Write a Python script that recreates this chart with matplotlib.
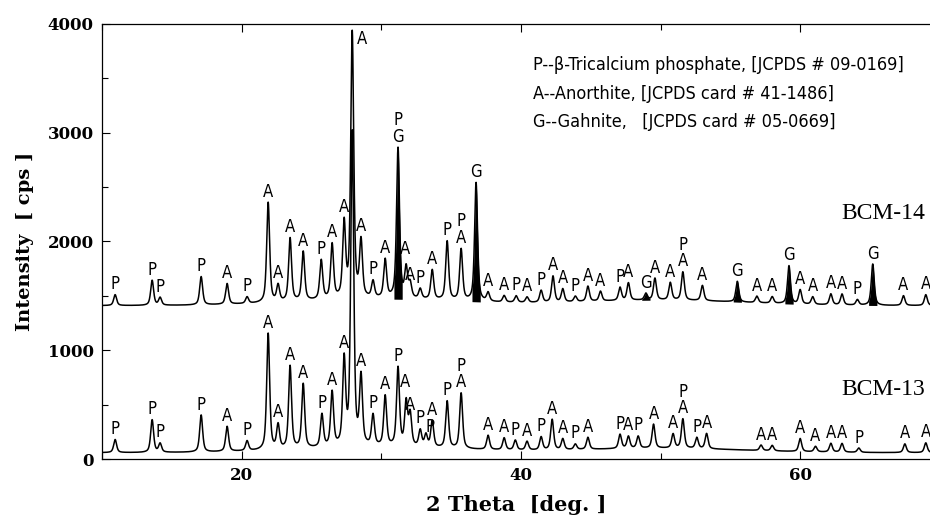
import numpy as np
import matplotlib
matplotlib.use("Agg")
import matplotlib.pyplot as plt
from matplotlib import font_manager
from matplotlib.ticker import MultipleLocator

# ---- peaks: 2theta [deg], height above baseline [cps], phase label
pos14 = [10.94, 13.59, 14.16, 17.10, 18.96, 20.39, 21.90, 22.61, 23.47, 24.41,
         25.70, 26.48, 27.34, 27.92, 28.55, 29.41, 30.28, 31.20, 31.78, 32.07,
         32.79, 33.65, 34.72, 35.72, 36.79, 37.65, 38.80, 39.66, 40.44, 41.45,
         42.30, 43.00, 43.90, 44.80, 45.70, 47.10, 47.70, 48.95, 49.60, 50.70,
         51.60, 53.00, 55.50, 56.90, 58.00, 59.20, 60.00, 60.90, 62.20, 63.00,
         64.10, 65.20, 67.40, 69.00]
amp14 = [100, 230, 70, 260, 190, 60, 920, 150, 580, 450,
         360, 500, 680, 2440, 510, 150, 350, 1380, 270, 130,
         90, 270, 540, 470, 1090, 80, 60, 60, 50, 110,
         240, 120, 50, 140, 90, 120, 160, 60, 200, 160,
         260, 140, 190, 60, 60, 350, 130, 70, 100, 100,
         50, 380, 90, 100]
lab14 = ["P", "P", "P", "P", "A", "P", "A", "A", "A", "A",
         "P", "A", "A", "A", "A", "P", "A", "P\nG", "A", "A",
         "P", "A", "P", "P\nA", "G", "A", "A", "P", "A", "P",
         "A", "A", "P", "A", "A", "P", "A", "G", "A", "A",
         "P\nA", "A", "G", "A", "A", "G", "A", "A", "A", "A",
         "P", "G", "A", "A"]
gahnite14 = [31.20, 36.79, 48.95, 55.50, 59.20, 65.20]

pos13 = [10.94, 13.59, 14.16, 17.10, 18.96, 20.39, 21.90, 22.61, 23.47, 24.41,
         25.75, 26.48, 27.34, 27.92, 28.55, 29.41, 30.28, 31.20, 31.78, 32.07,
         32.79, 33.20, 33.65, 34.72, 35.72, 37.65, 38.80, 39.60, 40.44, 41.45,
         42.24, 43.00, 43.90, 44.80, 47.10, 47.70, 48.40, 49.50, 50.90, 51.60,
         52.60, 53.30, 57.20, 58.00, 60.00, 61.10, 62.20, 63.00, 64.20, 67.50,
         69.00]
amp13 = [120, 300, 80, 340, 230, 90, 1070, 220, 760, 590,
         300, 500, 780, 2880, 620, 280, 460, 720, 400, 290,
         150, 110, 240, 430, 510, 130, 110, 90, 80, 120,
         280, 100, 50, 110, 130, 110, 110, 220, 130, 270,
         100, 140, 50, 50, 120, 50, 80, 80, 40, 80,
         90]
lab13 = ["P", "P", "P", "P", "A", "P", "A", "A", "A", "A",
         "P", "A", "A", "", "A", "P", "A", "P", "A", "A",
         "P", "P", "A", "P", "P\nA", "A", "A", "P", "A", "P",
         "A", "A", "P", "A", "P", "A", "P", "A", "A", "P\nA",
         "P", "A", "A", "A", "A", "A", "A", "A", "P", "A",
         "A"]

base14 = 1410
base13 = 58
hump_pos = [30.0, 50.0]
hump14 = [60, 50]
hump13 = [50, 40]

legend_lines = ["P--\u03b2-Tricalcium phosphate, [JCPDS # 09-0169]",
                "A--Anorthite, [JCPDS card # 41-1486]",
                "G--Gahnite,   [JCPDS card # 05-0669]"]

assert len(pos14) == len(amp14) == len(lab14)
assert len(pos13) == len(amp13) == len(lab13)

FWHM = 0.25
HUMP_FWHM = 14.0


def peak(x, x0, a, w):
    h = w / 2
    lor = 1 / (1 + ((x - x0) / h) ** 2)
    gau = np.exp(-np.log(2) * ((x - x0) / h) ** 2)
    return a * (0.6 * lor + 0.4 * gau)


def background(x, base, humps):
    y = np.full_like(x, base, dtype=float)
    for p, a in zip(hump_pos, humps):
        y += a * np.exp(-np.log(2) * ((x - p) / (HUMP_FWHM / 2)) ** 2)
    return y


def pattern(x, base, humps, pos, amp):
    y = background(x, base, humps)
    for p, a in zip(pos, amp):
        y += peak(x, p, a, FWHM)
    return y


# narrow sans for the phase letters if one is installed
lab_kw = dict(family="Lato")
lab_size, leg_size = 12, 13
for f in font_manager.fontManager.ttflist:
    if f.name == "DejaVu Sans" and f.stretch == "condensed":
        lab_kw = dict(family="DejaVu Sans", stretch="condensed")
        break

x = np.linspace(10, 69.3, 8000)
y14 = pattern(x, base14, hump14, pos14, amp14)
y13 = pattern(x, base13, hump13, pos13, amp13)

fig = plt.figure(figsize=(9.3, 5.21), dpi=100)
ax = fig.add_axes([0.1097, 0.119, 0.8903, 0.835])

ax.plot(x, y13, color="black", lw=1.1)
ax.plot(x, y14, color="black", lw=1.1)

# gahnite peaks of BCM-14 are filled black
bg14 = background(x, base14, hump14)
for g in gahnite14:
    m = np.abs(x - g) < 0.3
    ax.fill_between(x[m], bg14[m], y14[m], color="black", lw=0)

# phase labels just above each peak
nudge14 = {27.92: (7, -13), 31.78: (-1, 4), 32.07: (0, -3)}
nudge13 = {31.78: (-1, 5), 32.07: (0, -3), 32.79: (0, 1), 33.20: (3, -2)}
for pos, lab, yy, nudge in [(pos14, lab14, y14, nudge14), (pos13, lab13, y13, nudge13)]:
    for p, t in zip(pos, lab):
        if not t:
            continue
        top = yy[np.argmin(np.abs(x - p))]
        dx, dy = nudge.get(p, (0, 1))
        ax.annotate(t, (p, top), xytext=(dx, dy), textcoords="offset points",
                    ha="center", va="bottom", fontsize=lab_size,
                    linespacing=0.9, **lab_kw)

for i, line in enumerate(legend_lines):
    fig.text(0.573, 0.875 - i * 0.0545, line, fontsize=leg_size,
             va="center", ha="left", **lab_kw)

fig.text(0.995, 0.591, "BCM-14", fontsize=17, family="Liberation Serif",
         ha="right", va="center")
fig.text(0.995, 0.252, "BCM-13", fontsize=17, family="Liberation Serif",
         ha="right", va="center")

ax.set_xlim(10, 69.3)
ax.set_ylim(0, 4000)
ax.xaxis.set_major_locator(MultipleLocator(20))
ax.xaxis.set_minor_locator(MultipleLocator(10))
ax.yaxis.set_major_locator(MultipleLocator(1000))
ax.yaxis.set_minor_locator(MultipleLocator(500))
ax.tick_params(which="both", direction="in", top=True, right=False)
ax.tick_params(which="major", length=6, width=0.8, pad=6)
ax.tick_params(which="minor", length=4, width=0.8)
ax.spines["right"].set_visible(False)
for s in ["left", "top", "bottom"]:
    ax.spines[s].set_linewidth(0.9)

for lbl in ax.get_xticklabels() + ax.get_yticklabels():
    lbl.set_family("DejaVu Serif")
    lbl.set_fontweight("bold")
    lbl.set_fontsize(12)

ax.set_xlabel("2 Theta  [deg. ]", family="DejaVu Serif", fontweight="bold",
              fontsize=15, labelpad=8)
ax.set_ylabel("Intensity  [ cps ]", family="DejaVu Serif", fontweight="bold",
              fontsize=14, labelpad=10)

fig.savefig("out.png", dpi=100)
